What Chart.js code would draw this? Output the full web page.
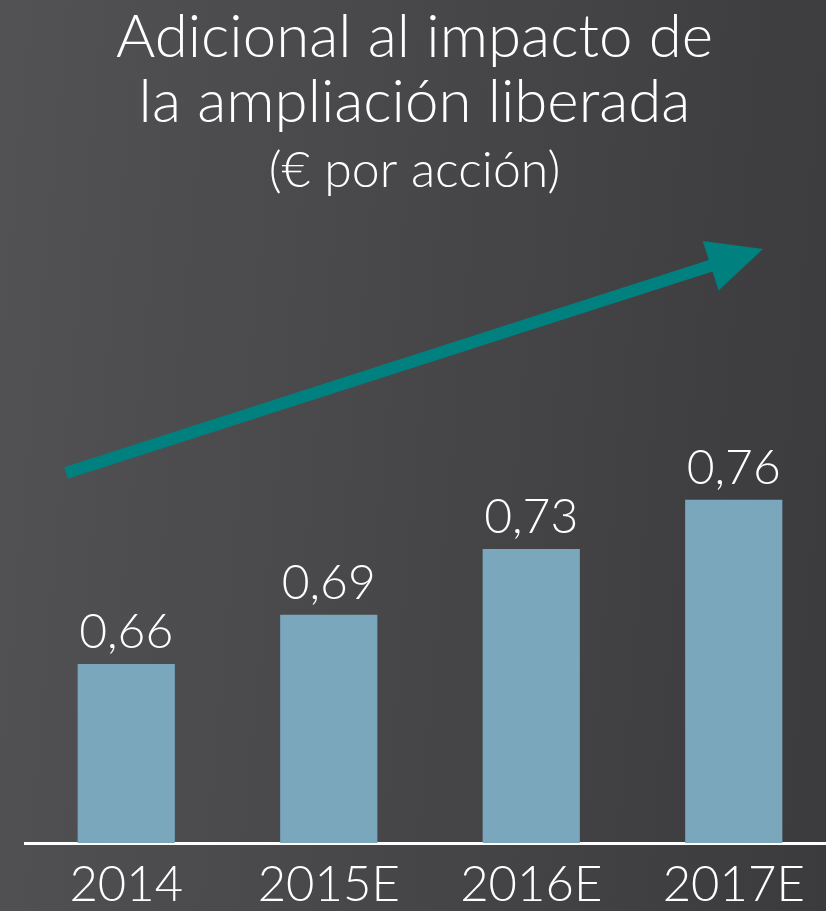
<!DOCTYPE html>
<html>
<head>
<meta charset="utf-8">
<script src="https://cdn.jsdelivr.net/npm/chart.js@4.4.1/dist/chart.umd.min.js"></script>
<style>
    html, body { margin: 0; padding: 0; }
    body {
        width: 826px;
        height: 911px;
        overflow: hidden;
        background: linear-gradient(95deg, #525254 0%, #48484a 45%, #3b3b3d 100%);
    }
    #marco { width: 826px; height: 911px; overflow: hidden; position: relative; }
    #grafico { position: absolute; left: -6px; top: 0; }
</style>
</head>
<body>
<div id="marco"><canvas id="grafico" width="841" height="911"></canvas></div>
<script>
const categorias = ["2014", "2015E", "2016E", "2017E"];
const valores = [0.66, 0.69, 0.73, 0.76];
const etiquetasValor = ["0,66", "0,69", "0,73", "0,76"];
const tituloLineas = ["Adicional al impacto de", "la ampliación liberada"];
const subtitulo = "(€ por acción)";

const fuente = "Lato, 'DejaVu Sans', sans-serif";
const colorBarra = "#7aa7bc";
const colorFlecha = "#00817f";

// flecha decorativa (no es dato), en coordenadas del canvas
const flecha = { x1: 72, y1: 473, x2: 769, y2: 249, grosor: 12, largo: 55, ancho: 26 };

const pluginEtiquetas = {
    id: "etiquetas",
    afterDatasetsDraw(chart) {
        const ctx = chart.ctx;
        const meta = chart.getDatasetMeta(0);
        ctx.save();
        ctx.fillStyle = "#ffffff";
        ctx.font = "300 48px " + fuente;
        ctx.textAlign = "center";
        ctx.textBaseline = "alphabetic";
        meta.data.forEach((barra, i) => {
            ctx.fillText(etiquetasValor[i], barra.x, barra.y - 16);
        });
        ctx.restore();
    }
};

const pluginFlecha = {
    id: "flecha",
    afterDraw(chart) {
        const ctx = chart.ctx;
        const dx = flecha.x2 - flecha.x1;
        const dy = flecha.y2 - flecha.y1;
        const len = Math.sqrt(dx * dx + dy * dy);
        const ux = dx / len, uy = dy / len;
        const px = -uy, py = ux;
        const bx = flecha.x2 - ux * flecha.largo;
        const by = flecha.y2 - uy * flecha.largo;

        ctx.save();
        ctx.strokeStyle = colorFlecha;
        ctx.fillStyle = colorFlecha;
        ctx.lineWidth = flecha.grosor;
        ctx.lineCap = "butt";
        ctx.beginPath();
        ctx.moveTo(flecha.x1, flecha.y1);
        ctx.lineTo(bx + ux * 5, by + uy * 5);
        ctx.stroke();

        ctx.beginPath();
        ctx.moveTo(flecha.x2, flecha.y2);
        ctx.lineTo(bx + px * flecha.ancho, by + py * flecha.ancho);
        ctx.lineTo(bx - px * flecha.ancho, by - py * flecha.ancho);
        ctx.closePath();
        ctx.fill();
        ctx.restore();
    }
};

new Chart(document.getElementById("grafico"), {
    type: "bar",
    data: {
        labels: categorias,
        datasets: [{
            data: valores,
            backgroundColor: colorBarra,
            borderWidth: 0,
            barPercentage: 0.8,
            categoryPercentage: 0.6
        }]
    },
    options: {
        responsive: false,
        animation: false,
        layout: { padding: 0 },
        plugins: {
            legend: { display: false },
            tooltip: { enabled: false },
            title: {
                display: true,
                text: tituloLineas,
                color: "#ffffff",
                font: { family: fuente, size: 60, weight: "300", lineHeight: 1.08 },
                padding: { top: 5, bottom: 0 }
            },
            subtitle: {
                display: true,
                text: subtitulo,
                color: "#ffffff",
                font: { family: fuente, size: 50, weight: "300", lineHeight: 1.2 },
                padding: { top: 6, bottom: 20 }
            }
        },
        scales: {
            x: {
                grid: { display: false },
                border: { display: true, color: "#ffffff", width: 3 },
                ticks: {
                    color: "#ffffff",
                    font: { family: fuente, size: 49, weight: "300", lineHeight: 1.0 },
                    padding: 10
                },
                afterFit(scale) { scale.height = 68; }
            },
            y: {
                min: 0.551,
                max: 0.930,
                grid: { display: false },
                border: { display: false },
                ticks: { display: false },
                afterFit(scale) { scale.width = 31; }
            }
        }
    },
    plugins: [pluginEtiquetas, pluginFlecha]
});
</script>
</body>
</html>
